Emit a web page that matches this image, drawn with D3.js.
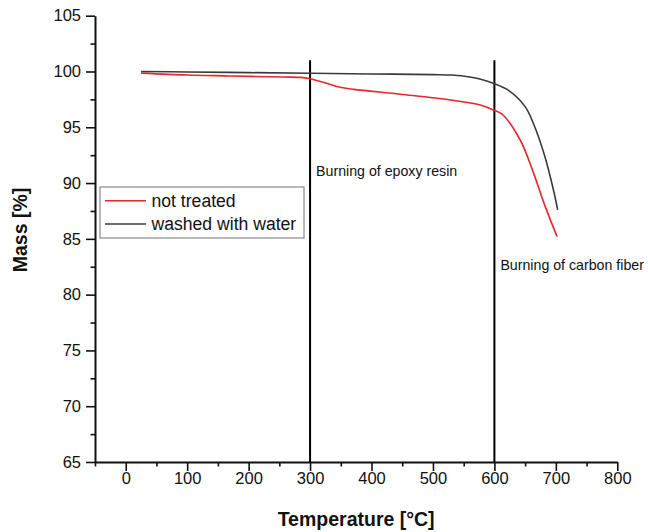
<!DOCTYPE html>
<html>
<head>
<meta charset="utf-8">
<script src="https://cdn.jsdelivr.net/npm/d3@7"></script>
<style>
  html, body { margin: 0; padding: 0; background: #fff; }
  svg { display: block; font-family: "Liberation Sans", Arial, sans-serif; }
</style>
</head>
<body>
<svg id="chart" width="648" height="532"></svg>
<script>
// Thermogravimetric curves: mass loss vs. temperature
const tempNotTreated = [25, 100, 170, 256, 284, 300, 327, 349, 371, 447, 528, 577, 598, 612, 642, 663, 682, 702];
const massNotTreated = [99.85, 99.68, 99.6, 99.5, 99.47, 99.35, 98.94, 98.58, 98.4, 97.96, 97.45, 97.0, 96.55, 96.2, 93.86, 91.0, 88.0, 85.2];

const tempWashed = [25, 100, 200, 300, 400, 500, 530, 560, 582, 598, 623, 650, 663, 682, 696, 703];
const massWashed = [100.0, 99.96, 99.9, 99.84, 99.78, 99.72, 99.68, 99.5, 99.24, 98.94, 98.3, 96.85, 95.4, 92.4, 89.4, 87.6];

const seriesNames = ["not treated", "washed with water"];
const seriesColors = ["#e8262b", "#3a3a3a"];

// Marker lines and their annotations
const markerTemps = [300, 600];
const markerTop = 101;
const markerLabels = ["Burning of epoxy resin", "Burning of carbon fiber"];
const markerLabelMass = [90.6, 82.2];

const xTicks = [0, 100, 200, 300, 400, 500, 600, 700, 800];
const yTicks = [65, 70, 75, 80, 85, 90, 95, 100, 105];

const svg = d3.select("#chart");
const plotLeft = 95, plotRight = 617.3, plotTop = 15.7, plotBottom = 462;

const x = d3.scaleLinear().domain([-50, 800]).range([plotLeft, plotRight]);
const y = d3.scaleLinear().domain([65, 105]).range([plotBottom, plotTop]);

// Minor ticks
const xMinor = d3.range(-50, 801, 50).filter(v => !xTicks.includes(v));
const yMinor = d3.range(67.5, 105, 5);

svg.append("g")
  .attr("transform", `translate(0,${plotBottom})`)
  .call(d3.axisBottom(x).tickValues(xMinor).tickSize(4.5).tickFormat(""))
  .call(g => g.select(".domain").remove())
  .call(g => g.selectAll("line").attr("stroke", "#111").attr("stroke-width", 1.6));

svg.append("g")
  .attr("transform", `translate(${plotLeft},0)`)
  .call(d3.axisLeft(y).tickValues(yMinor).tickSize(4.5).tickFormat(""))
  .call(g => g.select(".domain").remove())
  .call(g => g.selectAll("line").attr("stroke", "#111").attr("stroke-width", 1.6));

// Major axes
const xAxis = svg.append("g")
  .attr("transform", `translate(0,${plotBottom})`)
  .call(d3.axisBottom(x).tickValues(xTicks).tickSize(9).tickSizeOuter(0).tickPadding(1).tickFormat(d3.format("d")));

const yAxis = svg.append("g")
  .attr("transform", `translate(${plotLeft},0)`)
  .call(d3.axisLeft(y).tickValues(yTicks).tickSize(9).tickSizeOuter(0).tickPadding(5).tickFormat(d3.format("d")));

[xAxis, yAxis].forEach(g => {
  g.select(".domain").attr("stroke", "#111").attr("stroke-width", 2);
  g.selectAll(".tick line").attr("stroke", "#111").attr("stroke-width", 1.6);
  g.selectAll(".tick text")
    .attr("fill", "#111")
    .style("font-family", '"Liberation Sans", Arial, sans-serif')
    .style("font-size", "16.5px");
});

// Vertical marker lines
svg.append("g").selectAll("line")
  .data(markerTemps)
  .join("line")
  .attr("x1", d => x(d)).attr("x2", d => x(d))
  .attr("y1", y(markerTop)).attr("y2", y(65))
  .attr("stroke", "#000").attr("stroke-width", 2);

svg.append("g").selectAll("text")
  .data(markerTemps)
  .join("text")
  .attr("x", d => x(d) + 6)
  .attr("y", (d, i) => y(markerLabelMass[i]))
  .attr("fill", "#111")
  .style("font-size", "14.2px")
  .text((d, i) => markerLabels[i]);

// Curves
const line = d3.line()
  .x(d => x(d[0]))
  .y(d => y(d[1]))
  .curve(d3.curveCatmullRom.alpha(0.5));

const curves = [
  d3.zip(tempNotTreated, massNotTreated),
  d3.zip(tempWashed, massWashed)
];

svg.append("g").selectAll("path")
  .data(curves)
  .join("path")
  .attr("d", line)
  .attr("fill", "none")
  .attr("stroke", (d, i) => seriesColors[i])
  .attr("stroke-width", 1.6);

// Legend
const legend = svg.append("g").attr("transform", "translate(100,187)");
legend.append("rect")
  .attr("x", 0).attr("y", 0).attr("width", 204).attr("height", 51)
  .attr("fill", "#fff").attr("stroke", "#8a8a8a").attr("stroke-width", 1.2);

const items = legend.selectAll("g.item")
  .data(seriesNames)
  .join("g")
  .attr("class", "item")
  .attr("transform", (d, i) => `translate(0,${13.7 + i * 23.3})`);

items.append("line")
  .attr("x1", 5).attr("x2", 46)
  .attr("stroke", (d, i) => seriesColors[i])
  .attr("stroke-width", 1.6);

items.append("text")
  .attr("x", 51.5).attr("y", 6)
  .attr("fill", "#111")
  .style("font-size", "17.6px")
  .text(d => d);

// Axis titles
svg.append("text")
  .attr("x", (plotLeft + plotRight) / 2).attr("y", 525.5)
  .attr("text-anchor", "middle")
  .attr("fill", "#111")
  .style("font-size", "19.5px").style("font-weight", "bold")
  .text("Temperature [°C]");

svg.append("text")
  .attr("transform", "translate(27,230) rotate(-90)")
  .attr("text-anchor", "middle")
  .attr("fill", "#111")
  .style("font-size", "19.5px").style("font-weight", "bold")
  .text("Mass [%]");
</script>
</body>
</html>
